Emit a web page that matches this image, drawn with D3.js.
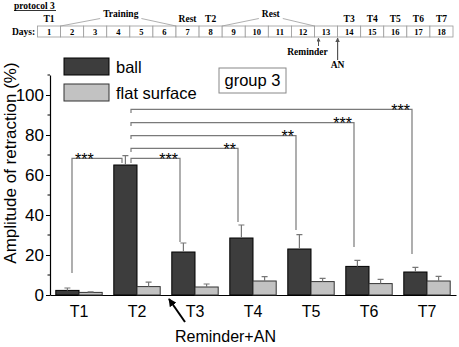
<!DOCTYPE html>
<html>
<head>
<meta charset="utf-8">
<script src="https://cdn.jsdelivr.net/npm/d3@7"></script>
<style>
  body { margin: 0; background: #fff; }
  svg { display: block; }
  .sans { font-family: Arial, "Liberation Sans", sans-serif; }
  .serif { font-family: "Times New Roman", "Liberation Serif", serif; font-weight: bold; }
</style>
</head>
<body>
<div id="chart"></div>
<script>
// ---- data ----
const tests = ['T1', 'T2', 'T3', 'T4', 'T5', 'T6', 'T7']
const ballMean = [2.3, 65, 21.5, 28.5, 23, 14.3, 11.5]
const ballErr  = [1.2, 4.7, 4.5, 6.5, 7.2, 3, 2.3]
const flatMean = [1.3, 4.2, 4, 7, 6.7, 5.7, 7]
const flatErr  = [0.3, 2.2, 1.5, 2.2, 1.6, 2.1, 2.3]
const yTicks = [0, 20, 40, 60, 80, 100]
const yMinor = [10, 30, 50, 70, 90, 110]

// significance brackets (level / drops in y units)
const brackets = [
  {from: 'T1', to: 'T2', level: 68.3, fromDrop: 11, toDrop: 66, label: '***', side: 'left'},
  {from: 'T2', to: 'T3', level: 68.3, fromDrop: 66, toDrop: 26.5, label: '***', side: 'right'},
  {from: 'T2', to: 'T4', level: 73.3, fromDrop: 71.5, toDrop: 36.5, label: '**', side: 'right'},
  {from: 'T2', to: 'T5', level: 79.7, fromDrop: 78, toDrop: 32.5, label: '**', side: 'right'},
  {from: 'T2', to: 'T6', level: 86.2, fromDrop: 84.5, toDrop: 24, label: '***', side: 'right'},
  {from: 'T2', to: 'T7', level: 92.8, fromDrop: 91, toDrop: 20.5, label: '***', side: 'right'}
]

// protocol timeline
const days = [1, 2, 3, 4, 5, 6, 7, 8, 9, 10, 11, 12, 13, 14, 15, 16, 17, 18]
const testDays = [
  {day: 1, label: 'T1'}, {day: 8, label: 'T2'}, {day: 14, label: 'T3'},
  {day: 15, label: 'T4'}, {day: 16, label: 'T5'}, {day: 17, label: 'T6'}, {day: 18, label: 'T7'}
]
const phases = [
  {first: 2, last: 6, label: 'Training', roof: true},
  {first: 7, last: 7, label: 'Rest', roof: false},
  {first: 9, last: 12, label: 'Rest', roof: true}
]

const rows = tests.map((t, i) => ({
  t: t, ball: ballMean[i], ballE: ballErr[i], flat: flatMean[i], flatE: flatErr[i]
}))

const width = 459, height = 347

const svg = d3.select('#chart')
  .append('svg')
  .attr('width', width)
  .attr('height', height)

// ---- scales ----
const x = d3.scaleBand()
  .domain(tests)
  .range([50, 456])
  .padding(0)

const y = d3.scaleLinear()
  .domain([0, 110])
  .range([295, 75])

const bw = x.bandwidth() * 0.4
const cx = t => x(t) + x.bandwidth() / 2

// ---- timeline ----
const dx = d3.scaleBand()
  .domain(days)
  .range([37.5, 453])

const tl = svg.append('g').attr('class', 'serif')
const cellTop = 26, cellH = 11

tl.append('text')
  .attr('x', 14).attr('y', 8.5)
  .attr('font-size', 9.5)
  .text('protocol 3')
tl.append('line')
  .attr('x1', 14).attr('x2', 56)
  .attr('y1', 10.5).attr('y2', 10.5)
  .attr('stroke', '#000').attr('stroke-width', 0.8)

tl.append('text')
  .attr('x', 12).attr('y', cellTop + 8.5)
  .attr('font-size', 9.5)
  .text('Days:')

tl.selectAll('rect.cell')
  .data(days)
  .join('rect')
  .attr('class', 'cell')
  .attr('x', d => dx(d))
  .attr('y', cellTop)
  .attr('width', dx.bandwidth())
  .attr('height', cellH)
  .attr('fill', '#fff')
  .attr('stroke', '#9a9a9a')
  .attr('stroke-width', 0.8)

tl.selectAll('text.day')
  .data(days)
  .join('text')
  .attr('class', 'day')
  .attr('x', d => dx(d) + dx.bandwidth() / 2)
  .attr('y', cellTop + 8.5)
  .attr('text-anchor', 'middle')
  .attr('font-size', 8.5)
  .text(d => d)

tl.selectAll('text.test')
  .data(testDays)
  .join('text')
  .attr('class', 'test')
  .attr('x', d => dx(d.day) + dx.bandwidth() / 2)
  .attr('y', 21.5)
  .attr('text-anchor', 'middle')
  .attr('font-size', 9.5)
  .text(d => d.label)

phases.forEach(p => {
  const x0 = dx(p.first), x1 = dx(p.last) + dx.bandwidth()
  const mid = (x0 + x1) / 2 + (p.roof ? 2.5 : 0)
  const ty = p.roof ? 16.5 : 21.5
  const txt = tl.append('text')
    .attr('x', mid).attr('y', ty)
    .attr('text-anchor', 'middle')
    .attr('font-size', 9.5)
    .text(p.label)
  if (p.roof) {
    const w = txt.node().getComputedTextLength()
    tl.append('polyline')
      .attr('points', `${x0},${cellTop} ${mid - w / 2 - 3},${ty + 2} `)
      .attr('fill', 'none').attr('stroke', '#9a9a9a').attr('stroke-width', 0.8)
    tl.append('polyline')
      .attr('points', `${mid + w / 2 + 3},${ty + 2} ${x1},${cellTop}`)
      .attr('fill', 'none').attr('stroke', '#9a9a9a').attr('stroke-width', 0.8)
  }
})

// Reminder / AN arrows under the timeline
const remX = dx(13) + 4, anX = dx(14)
svg.append('defs').append('marker')
  .attr('id', 'tip')
  .attr('viewBox', '0 0 10 10')
  .attr('refX', 9).attr('refY', 5)
  .attr('markerWidth', 4).attr('markerHeight', 4)
  .attr('orient', 'auto-start-reverse')
  .append('path').attr('d', 'M0,0L10,5L0,10z').attr('fill', '#555')

tl.append('line')
  .attr('x1', remX).attr('x2', remX)
  .attr('y1', 46).attr('y2', cellTop + cellH + 1)
  .attr('stroke', '#555').attr('stroke-width', 1)
  .attr('marker-end', 'url(#tip)')
tl.append('text')
  .attr('x', remX - 11).attr('y', 55)
  .attr('text-anchor', 'middle').attr('font-size', 9.5)
  .text('Reminder')
tl.append('line')
  .attr('x1', anX).attr('x2', anX)
  .attr('y1', 60).attr('y2', cellTop + cellH + 1)
  .attr('stroke', '#555').attr('stroke-width', 1.2)
  .attr('marker-end', 'url(#tip)')
tl.append('text')
  .attr('x', anX).attr('y', 68)
  .attr('text-anchor', 'middle').attr('font-size', 9.5)
  .text('AN')

// ---- axes ----
const axisG = svg.append('g').attr('class', 'sans')

const yAxis = axisG.append('g')
  .attr('transform', 'translate(50,0)')
  .call(d3.axisLeft(y).tickValues(yTicks).tickSize(4).tickSizeOuter(0).tickPadding(2))
yAxis.selectAll('text').attr('font-size', 17).attr('font-family', 'Arial, "Liberation Sans", sans-serif').attr('fill', '#000')
yAxis.select('.domain').attr('stroke-width', 1.2)

axisG.append('g')
  .selectAll('line')
  .data(yMinor)
  .join('line')
  .attr('x1', 47.5).attr('x2', 50)
  .attr('y1', d => y(d)).attr('y2', d => y(d))
  .attr('stroke', '#000')

const xAxis = axisG.append('g')
  .attr('transform', `translate(0,${y(0)})`)
  .call(d3.axisBottom(x).tickSize(0).tickSizeOuter(0).tickPadding(8))
xAxis.selectAll('text').attr('font-size', 16).attr('font-family', 'Arial, "Liberation Sans", sans-serif').attr('fill', '#000')
  .attr('dy', '0.9em')
xAxis.select('.domain').attr('stroke-width', 1.2)

axisG.append('text')
  .attr('transform', `translate(16,${(y(0) + y(110)) / 2 - 22}) rotate(-90)`)
  .attr('text-anchor', 'middle')
  .attr('font-size', 17)
  .text('Amplitude of retraction (%)')

// ---- brackets ----
const bg = svg.append('g').attr('class', 'sans')
brackets.forEach(b => {
  const xa = cx(b.from) + (b.from === 'T1' ? -7 : -6)
  const xb = cx(b.to) - 15
  const ly = y(b.level)
  bg.append('path')
    .attr('d', `M${xa},${y(b.fromDrop)}V${ly}H${xb}V${y(b.toDrop)}`)
    .attr('fill', 'none')
    .attr('stroke', '#7a7a7a')
    .attr('stroke-width', 1.2)
  bg.append('text')
    .attr('x', b.side === 'left' ? xa + 3 : xb - 2)
    .attr('y', ly + 6.5)
    .attr('text-anchor', b.side === 'left' ? 'start' : 'end')
    .attr('font-size', 16)
    .text(b.label)
})

// ---- bars ----
const bars = svg.append('g')

bars.selectAll('rect.ball')
  .data(rows)
  .join('rect')
  .attr('class', 'ball')
  .attr('x', d => cx(d.t) - bw)
  .attr('y', d => y(d.ball))
  .attr('width', bw)
  .attr('height', d => y(0) - y(d.ball))
  .attr('fill', '#3d3d3d')
  .attr('stroke', '#000')
  .attr('stroke-width', 1)

bars.selectAll('rect.flat')
  .data(rows)
  .join('rect')
  .attr('class', 'flat')
  .attr('x', d => cx(d.t))
  .attr('y', d => y(d.flat))
  .attr('width', bw)
  .attr('height', d => y(0) - y(d.flat))
  .attr('fill', '#c2c2c2')
  .attr('stroke', '#333')
  .attr('stroke-width', 1)

const errs = rows.flatMap(d => [
  {xc: cx(d.t) - bw / 2, v: d.ball, e: d.ballE},
  {xc: cx(d.t) + bw / 2, v: d.flat, e: d.flatE}
])
bars.selectAll('path.err')
  .data(errs)
  .join('path')
  .attr('class', 'err')
  .attr('d', d => `M${d.xc},${y(d.v)}V${y(d.v + d.e)}M${d.xc - 3},${y(d.v + d.e)}H${d.xc + 3}`)
  .attr('fill', 'none')
  .attr('stroke', '#777')
  .attr('stroke-width', 1.2)

// ---- legend ----
const lg = svg.append('g').attr('class', 'sans')
const legend = [
  {label: 'ball', fill: '#3d3d3d', stroke: '#000', y: 58},
  {label: 'flat surface', fill: '#c2c2c2', stroke: '#333', y: 84}
]
lg.selectAll('rect')
  .data(legend)
  .join('rect')
  .attr('x', 64).attr('y', d => d.y)
  .attr('width', 45).attr('height', 17)
  .attr('fill', d => d.fill)
  .attr('stroke', d => d.stroke)
lg.selectAll('text')
  .data(legend)
  .join('text')
  .attr('x', 116).attr('y', d => d.y + 15)
  .attr('font-size', 16.5)
  .text(d => d.label)

const gb = lg.append('g')
gb.append('rect')
  .attr('x', 219).attr('y', 68)
  .attr('width', 67).attr('height', 25)
  .attr('fill', '#fff').attr('stroke', '#888')
gb.append('text')
  .attr('x', 252.5).attr('y', 86)
  .attr('text-anchor', 'middle')
  .attr('font-size', 16.5)
  .text('group 3')

// ---- Reminder+AN arrow ----
const ax = cx('T3')
svg.append('defs').append('marker')
  .attr('id', 'bigtip')
  .attr('viewBox', '0 0 10 10')
  .attr('refX', 9).attr('refY', 5)
  .attr('markerWidth', 4).attr('markerHeight', 4)
  .attr('orient', 'auto')
  .append('path').attr('d', 'M0,0L10,5L0,10z').attr('fill', '#000')
svg.append('line')
  .attr('x1', ax - 10).attr('y1', 322)
  .attr('x2', ax - 26).attr('y2', y(0) + 4)
  .attr('stroke', '#000').attr('stroke-width', 2)
  .attr('marker-end', 'url(#bigtip)')
svg.append('text')
  .attr('class', 'sans')
  .attr('x', ax - 20).attr('y', 342)
  .attr('font-size', 16)
  .text('Reminder+AN')
</script>
</body>
</html>
